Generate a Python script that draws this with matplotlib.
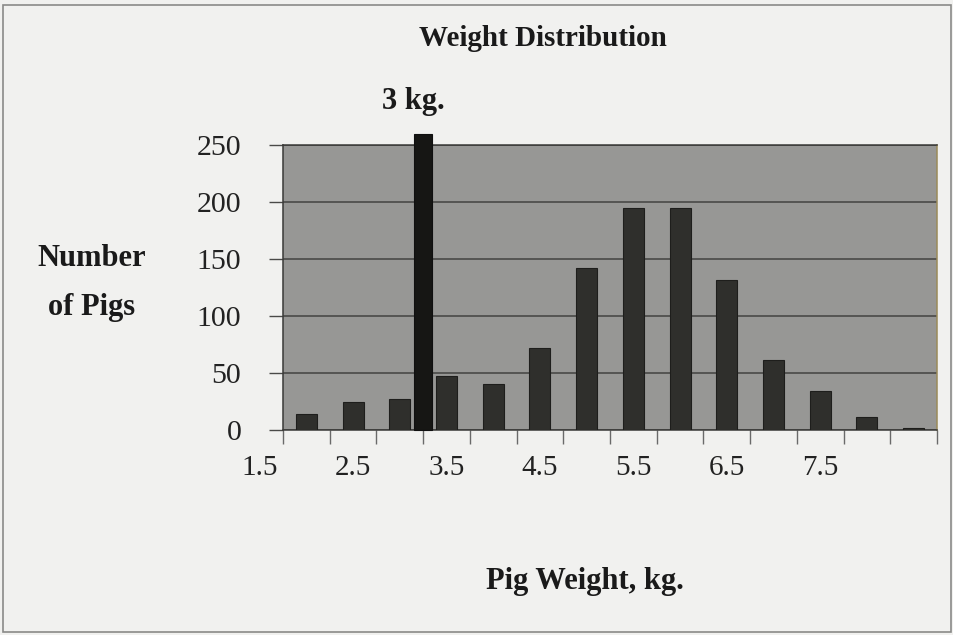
import matplotlib
matplotlib.use("Agg")
import matplotlib.pyplot as plt
from matplotlib.patches import Rectangle
from matplotlib.transforms import blended_transform_factory

# Data
weights = [2.0, 2.5, 3.0, 3.5, 4.0, 4.5, 5.0, 5.5, 6.0, 6.5, 7.0, 7.5, 8.0, 8.5]
counts = [14, 25, 27, 47, 40, 72, 142, 195, 195, 132, 61, 34, 11, 2]
highlight_x = 3.25
highlight_value = 260
highlight_label = "3 kg."
tick_labels = ["1.5", "2.5", "3.5", "4.5", "5.5", "6.5", "7.5"]
tick_label_pos = [1.5, 2.5, 3.5, 4.5, 5.5, 6.5, 7.5]
yticks = [0, 50, 100, 150, 200, 250]

plt.rcParams['font.family'] = ['Liberation Serif', 'DejaVu Serif']

fig = plt.figure(figsize=(9.54, 6.35), dpi=100)
fig.patch.set_facecolor('#f1f1ef')
W, H = 954, 635
ax = fig.add_axes([283 / W, (H - 430) / H, 654 / W, 285 / H])
ax.set_facecolor('#979795')

ax.bar(weights, counts, width=0.225, color='#2f2f2c', edgecolor='#1e1e1c', linewidth=0.8, zorder=3)
ax.bar([highlight_x], [highlight_value], width=0.2, color='#161614', edgecolor='#101010',
       linewidth=0.8, zorder=4, clip_on=False)

ax.set_xlim(1.75, 8.75)
ax.set_ylim(0, 250)
ax.set_yticks(yticks)
ax.set_yticklabels([str(v) for v in yticks], fontsize=21.5, color='#222222')
ax.yaxis.grid(True, color='#4a4a48', linewidth=1.2, zorder=1)
ax.set_axisbelow(True)

xt = [1.75 + 0.5 * k for k in range(15)]
ax.set_xticks(xt)
ax.set_xticklabels([])
ax.tick_params(axis='x', direction='out', length=10, width=1, color='#6a6a6a')
ax.tick_params(axis='y', direction='out', length=10, width=1, color='#4a4a48', pad=20)

for s in ['left', 'bottom', 'top']:
    ax.spines[s].set_color('#3a3a38')
    ax.spines[s].set_linewidth(1.1)
ax.spines['right'].set_color('#9a8a5a')
ax.spines['right'].set_linewidth(1.1)

trans = blended_transform_factory(ax.transData, ax.transAxes)
for x, lab in zip(tick_label_pos, tick_labels):
    ax.text(x, -38 / 285, lab, transform=trans, ha='center', va='center',
            fontsize=21, color='#222222', clip_on=False)

fig.text(543 / W, 1 - 39 / H, "Weight Distribution", ha='center', va='center',
         fontsize=21, fontweight='bold', color='#1a1a1a')
ax.text(highlight_x - 0.1, 1 + 44 / 285, highlight_label, transform=trans,
        ha='center', va='center', fontsize=22, fontweight='bold', color='#1a1a1a')
fig.text(92 / W, 1 - 259 / H, "Number", ha='center', va='center', fontsize=22,
         fontweight='bold', color='#1a1a1a')
fig.text(92 / W, 1 - 308 / H, "of Pigs", ha='center', va='center', fontsize=22,
         fontweight='bold', color='#1a1a1a')
fig.text(585 / W, 1 - 581 / H, "Pig Weight, kg.", ha='center', va='center',
         fontsize=22, fontweight='bold', color='#1a1a1a')

fig.patches.append(Rectangle((3 / W, 3 / H), 948 / W, 627 / H, transform=fig.transFigure,
                             fill=False, edgecolor='#8a8a88', linewidth=1.2))

fig.savefig('out.png', dpi=100, facecolor=fig.get_facecolor())
